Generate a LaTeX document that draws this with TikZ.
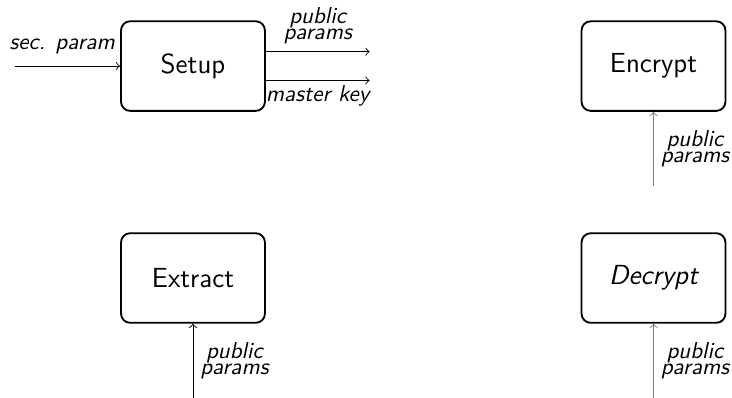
\documentclass[tikz,border=0pt]{standalone}
\usepackage{tikz}
\begin{document}
\begin{tikzpicture}[
	algo/.style={draw, thick, rounded corners, minimum width=2.2cm, minimum height=1.37cm, font=\sffamily\large},
	lbl/.style={font={\sffamily\itshape\fontsize{10}{7}\selectfont}, align=center, inner sep=2pt}]
	\useasboundingbox (0,0) rectangle (11.19,6.08);
	\node[algo] (setup) at (2.95,5.07) {Setup};
	\node[algo] (enc) at (9.99,5.07) {Encrypt};
	\node[algo] (ext) at (2.95,1.83) {Extract};
	\node[algo] (dec) at (9.99,1.83) {\itshape Decrypt};
	% free ends
	\coordinate (secin) at (0.23,5.07);
	\coordinate (ppout) at (5.65,5.29);
	\coordinate (mkout) at (5.65,4.85);
	\coordinate (encin) at (9.99,3.24);
	\coordinate (extin) at (2.95,0);
	\coordinate (decin) at (9.99,0);
	\draw[->] (secin) -- (setup.west) node[lbl, pos=0.45, above=3pt] {sec. param};
	\draw[->] (setup.east |- ppout) -- (ppout) node[lbl, midway, above=1pt] {public\\params};
	\draw[->] (setup.east |- mkout) -- (mkout) node[lbl, midway, below] {master key};
	\draw[->, gray] (encin) -- (enc.south) node[lbl, black, midway, right=1pt] {public\\params};
	\draw[->] (extin) -- (ext.south) node[lbl, midway, right=1pt] {public\\params};
	\draw[->, gray] (decin) -- (dec.south) node[lbl, black, midway, right=1pt] {public\\params};
\end{tikzpicture}
\end{document}
